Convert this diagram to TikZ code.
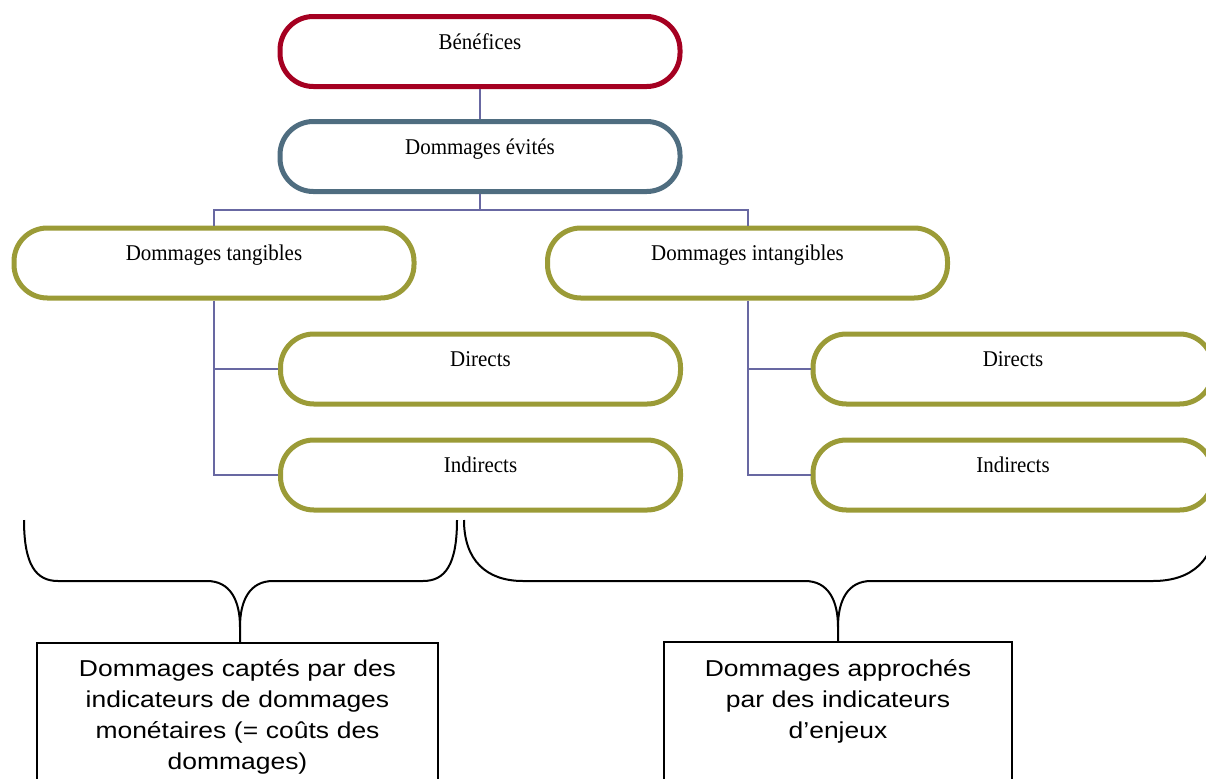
\documentclass[tikz,border=0pt]{standalone}
\usepackage{fontspec}
\setmainfont{Liberation Serif}
\newfontfamily\boxserif[FakeStretch=0.93]{Liberation Serif}
\newfontfamily\boxsans[FakeStretch=1.15]{Liberation Sans}
\definecolor{redc}{HTML}{A50021}
\definecolor{slatec}{HTML}{4F6D80}
\definecolor{olivec}{HTML}{9B9B37}
\definecolor{linkc}{HTML}{6868A2}
\begin{document}
\begin{tikzpicture}[x=0.75pt,y=-0.75pt,
  pill/.style={draw, line width=3.75pt, rounded corners=25pt, fill=white,
    minimum width=300pt, minimum height=52.5pt, inner sep=0pt,
    text height=0pt, text depth=3.75pt,
    font=\boxserif\fontsize{16.9}{20}\selectfont},
  link/.style={draw=linkc, line width=1.5pt},
  brace/.style={draw=black, line width=1.5pt, line join=round},
  capbox/.style={draw=black, line width=1.5pt, inner sep=0pt, anchor=north},
  captext/.style={text width=330pt, align=center, inner sep=0pt, anchor=base,
    font=\boxsans\fontsize{17.25}{23.25}\selectfont}]
\useasboundingbox (0,0) rectangle (1206,778);

\coordinate (busL) at (214,210);
\coordinate (busR) at (747.5,210);

\node[pill, draw=redc] (ben) at (480,51.5) {Bénéfices};
\node[pill, draw=slatec] (evi) at (480,156.5) {Dommages évités};
\node[pill, draw=olivec] (tan) at (214,263) {Dommages tangibles};
\node[pill, draw=olivec] (intan) at (747.5,263) {Dommages intangibles};
\node[pill, draw=olivec] (dirL) at (480.5,369) {Directs};
\node[pill, draw=olivec] (indL) at (480.5,475) {Indirects};
\node[pill, draw=olivec] (dirR) at (1013,369) {Directs};
\node[pill, draw=olivec] (indR) at (1013,475) {Indirects};

\draw[link] (ben.south) -- (evi.north);
\draw[link] (evi.south) -- (evi.south |- busL);
\draw[link] (tan.north) -- (busL) -- (busR) -- (intan.north);
\draw[link] (tan.south) |- (indL.west);
\draw[link] (tan.south |- dirL.west) -- (dirL.west);
\draw[link] (intan.south) |- (indR.west);
\draw[link] (intan.south |- dirR.west) -- (dirR.west);

\node[capbox, minimum width=300.75pt, minimum height=118.5pt] (capL) at (237.5,642) {};
\node[capbox, minimum width=261pt, minimum height=118.5pt] (capR) at (838,641) {};
\node[captext] (tL) at (237.5,676) {Dommages captés par des\\indicateurs de dommages\\monétaires (= coûts des\\dommages)};
\node[captext] (tR) at (838,676) {Dommages approchés\\par des indicateurs\\d’enjeux};

\draw[brace] (24,520) .. controls (24,565) and (36,581) .. (58,581) -- (207,581)
  .. controls (230,581) and (240,600) .. (240,627) -- (capL.north -| 240,0);
\draw[brace] (457,520) .. controls (457,565) and (445,581) .. (423,581) -- (273,581)
  .. controls (250,581) and (240,600) .. (240,627);
\draw[brace] (464,520) .. controls (464,560) and (486,581) .. (523,581) -- (805,581)
  .. controls (828,581) and (838,600) .. (838,627) -- (capR.north);
\draw[brace] (1216,518) .. controls (1216,560) and (1192,581) .. (1153,581) -- (871,581)
  .. controls (848,581) and (838,600) .. (838,627);
\end{tikzpicture}
\end{document}
